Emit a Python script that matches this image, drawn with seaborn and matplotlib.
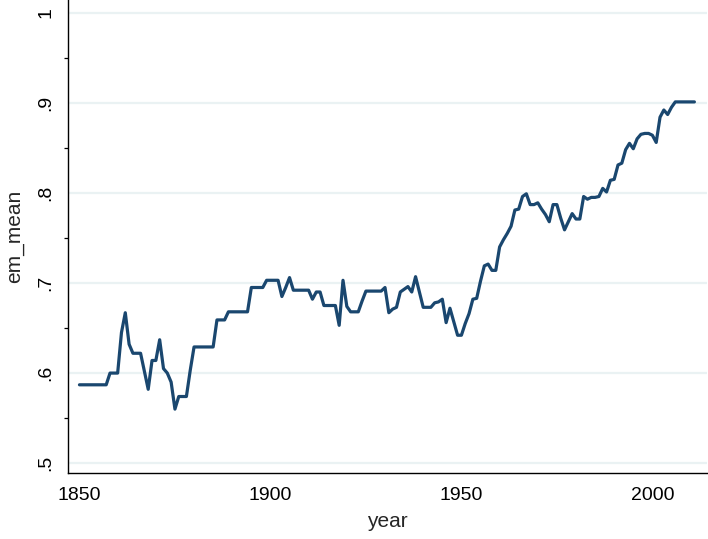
import matplotlib
matplotlib.use("Agg")
import matplotlib.pyplot as plt
import matplotlib.ticker as mticker
import seaborn as sns
import pandas as pd

# annual series, 1850-2011
years = list(range(1850, 2012))
em_mean = [
    .587, .587, .587, .587, .587, .587, .587, .587, .600, .600,  # 1850s
    .600, .645, .667, .632, .622, .622, .622, .602, .582, .614,  # 1860s
    .614, .637, .605, .600, .590, .560, .574, .574, .574, .603,  # 1870s
    .629, .629, .629, .629, .629, .629, .659, .659, .659, .668,  # 1880s
    .668, .668, .668, .668, .668, .695, .695, .695, .695, .703,  # 1890s
    .703, .703, .703, .685, .695, .706, .692, .692, .692, .692,  # 1900s
    .692, .682, .690, .690, .675, .675, .675, .675, .653, .703,  # 1910s
    .674, .668, .668, .668, .680, .691, .691, .691, .691, .691,  # 1920s
    .695, .667, .671, .673, .690, .693, .696, .690, .707, .690,  # 1930s
    .673, .673, .673, .678, .679, .682, .656, .672, .657, .642,  # 1940s
    .642, .655, .666, .682, .683, .702, .719, .721, .714, .714,  # 1950s
    .740, .748, .755, .763, .781, .782, .796, .799, .787, .787,  # 1960s
    .789, .782, .776, .768, .787, .787, .772, .759, .768, .777,  # 1970s
    .771, .771, .796, .793, .795, .795, .796, .805, .801, .814,  # 1980s
    .815, .831, .833, .848, .855, .849, .860, .865, .866, .866,  # 1990s
    .864, .856, .884, .892, .887, .895, .901, .901, .901, .901,  # 2000s
    .901, .901,
]
x_ticks = [1850, 1900, 1950, 2000]
y_ticks = [.5, .6, .7, .8, .9, 1.0]

df = pd.DataFrame({'year': years, 'em_mean': em_mean})

sns.set_style('white')
plt.rcParams['font.family'] = ['Liberation Sans', 'DejaVu Sans']

fig = plt.figure(figsize=(7.08, 5.39), dpi=100)
ax = fig.add_axes([68 / 708, 66 / 539, 639 / 708, 473 / 539])

sns.lineplot(x='year', y='em_mean', data=df, ax=ax, color='#1a476f', linewidth=2.3)

ax.set_xlim(1847.0, 2014.3)
ax.set_ylim(0.4891, 1.0141)

ax.set_xticks(x_ticks)
ax.set_yticks(y_ticks)
ax.yaxis.set_minor_locator(mticker.MultipleLocator(0.05))
ax.yaxis.set_major_formatter(mticker.FuncFormatter(lambda v, p: ('%g' % round(v, 2)).lstrip('0')))

# Stata-like horizontal grid only
ax.grid(axis='y', which='major', color='#eaf2f3', linewidth=1.6)
ax.grid(axis='x', visible=False)
ax.set_axisbelow(True)

for s in ['top', 'right']:
    ax.spines[s].set_visible(False)
for s in ['left', 'bottom']:
    ax.spines[s].set_color('black')
    ax.spines[s].set_linewidth(1.0)

ax.tick_params(axis='both', which='major', direction='out', length=5, width=0.9,
               color='black', labelsize=14, labelcolor='black')
ax.tick_params(axis='y', which='minor', direction='out', length=3, width=0.9,
               color='black', left=True)
ax.tick_params(axis='x', pad=5)
ax.tick_params(axis='y', pad=5)
plt.setp(ax.get_yticklabels(), rotation=90, va='center')

ax.set_xlabel('year', fontsize=15, labelpad=6)
ax.set_ylabel('em_mean', fontsize=15, labelpad=9)

fig.savefig('out.png', dpi=100, facecolor='white')
